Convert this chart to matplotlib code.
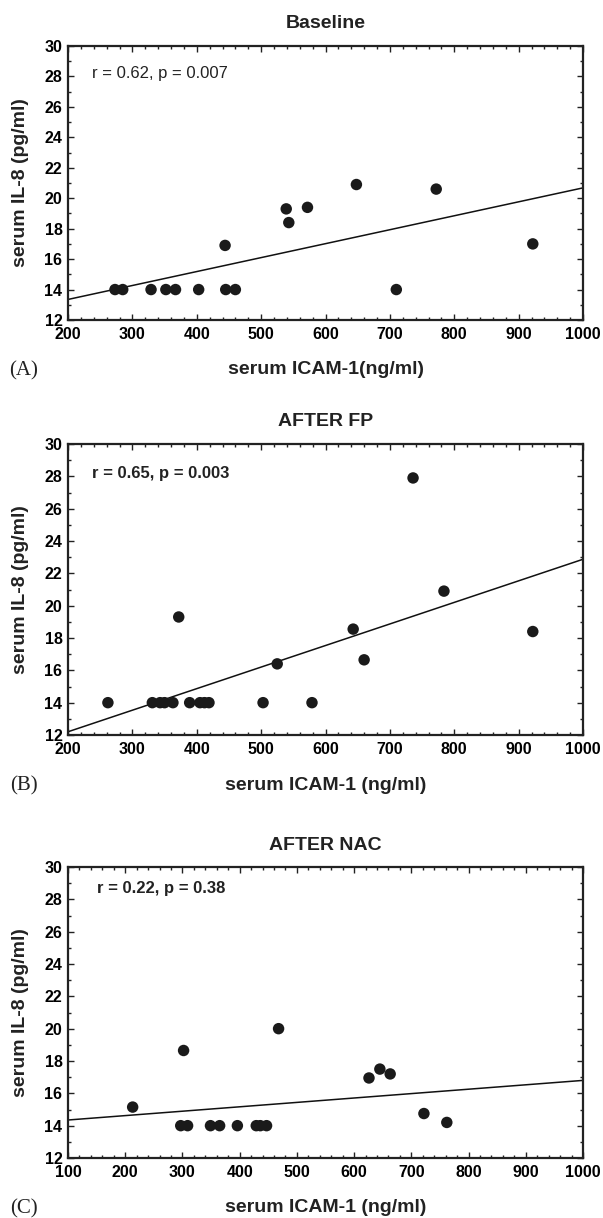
import matplotlib
matplotlib.use("Agg")
import matplotlib.pyplot as plt
from matplotlib.ticker import MultipleLocator

plt.rcParams['font.family'] = ['Liberation Sans', 'DejaVu Sans']

# panel A - baseline
a_icam = [273, 285, 329, 352, 367, 403, 445, 460, 444, 539, 543, 572, 648, 710, 772, 922]
a_il8 = [14, 14, 14, 14, 14, 14, 14, 14, 16.9, 19.3, 18.4, 19.4, 20.9, 14, 20.6, 17.0]
a_fit_x = [200, 1000]
a_fit_y = [13.35, 20.68]

# panel B - after FP
b_icam = [262, 331, 343, 350, 363, 389, 405, 412, 419, 503, 579,
          372, 525, 643, 660, 736, 784, 922]
b_il8 = [14, 14, 14, 14, 14, 14, 14, 14, 14, 14, 14,
         19.3, 16.4, 18.55, 16.65, 27.9, 20.9, 18.4]
b_fit_x = [200, 1000]
b_fit_y = [12.2, 22.87]

# panel C - after NAC
c_icam = [213, 297, 309, 349, 365, 396, 429, 436, 447, 302, 468, 626, 645, 663, 722, 762]
c_il8 = [15.15, 14, 14, 14, 14, 14, 14, 14, 14, 18.65, 20.0, 16.95, 17.5, 17.2, 14.75, 14.2]
c_fit_x = [100, 1000]
c_fit_y = [14.35, 16.8]

titles = ['Baseline', 'AFTER FP', 'AFTER NAC']
stats = ['r = 0.62, p = 0.007', 'r = 0.65, p = 0.003', 'r = 0.22, p = 0.38']
xlabels = ['serum ICAM-1(ng/ml)', 'serum ICAM-1 (ng/ml)', 'serum ICAM-1 (ng/ml)']
ylabel = 'serum IL-8 (pg/ml)'
letters = ['(A)', '(B)', '(C)']
xmins = [200, 200, 100]

W, H = 603, 1218
fig = plt.figure(figsize=(W / 100, H / 100), dpi=100)

# axes boxes in pixels: top, bottom
boxes = [(46, 320), (444, 735), (867, 1158)]
left, right = 68, 583

panels = [(a_icam, a_il8, a_fit_x, a_fit_y),
          (b_icam, b_il8, b_fit_x, b_fit_y),
          (c_icam, c_il8, c_fit_x, c_fit_y)]

for i, (xs, ys, fx, fy) in enumerate(panels):
    top, bot = boxes[i]
    ax = fig.add_axes([left / W, 1 - bot / H, (right - left) / W, (bot - top) / H])
    ax.plot(fx, fy, color='#111111', lw=1.1, zorder=2)
    ax.scatter(xs, ys, s=68, color='#1a1a1a', edgecolors='none', zorder=3)
    ax.set_xlim(xmins[i], 1000)
    ax.set_ylim(12, 30)
    ax.xaxis.set_major_locator(MultipleLocator(100))
    ax.xaxis.set_minor_locator(MultipleLocator(20))
    ax.yaxis.set_major_locator(MultipleLocator(2))
    ax.yaxis.set_minor_locator(MultipleLocator(1))
    ax.tick_params(which='both', direction='in', top=True, right=True,
                   width=1.0, color='#222222')
    ax.tick_params(which='major', length=4.5, labelsize=11.5)
    ax.tick_params(which='minor', length=2.5)
    ax.tick_params(axis='x', pad=5)
    ax.tick_params(axis='y', pad=4)
    for lab in ax.get_xticklabels() + ax.get_yticklabels():
        lab.set_fontweight('bold')
    for sp in ax.spines.values():
        sp.set_linewidth(1.6)
        sp.set_color('#222222')

    wt = 'normal' if i == 0 else 'bold'
    ty = 0.925 if i == 2 else 0.9
    tx = 0.057 if i == 2 else 0.047
    ax.text(tx, ty, stats[i], transform=ax.transAxes, fontsize=12,
            fontweight=wt, ha='left', va='center', color='#222222')

    cx = (left + right) / 2 / W
    fig.text(cx, 1 - (top - 22) / H, titles[i], ha='center', va='center',
             fontsize=14, fontweight='bold', color='#222222')
    fig.text(cx, 1 - (bot + 50) / H, xlabels[i], ha='center', va='center',
             fontsize=14, fontweight='bold', color='#222222')
    fig.text(21 / W, 1 - (top + bot) / 2 / H, ylabel, ha='center', va='center',
             rotation=90, fontsize=14, fontweight='bold', color='#222222')
    fig.text(24 / W, 1 - (bot + 51) / H, letters[i], ha='center', va='center',
             fontsize=15, family='Liberation Serif', color='#222222')

fig.savefig('out.png', dpi=100)
